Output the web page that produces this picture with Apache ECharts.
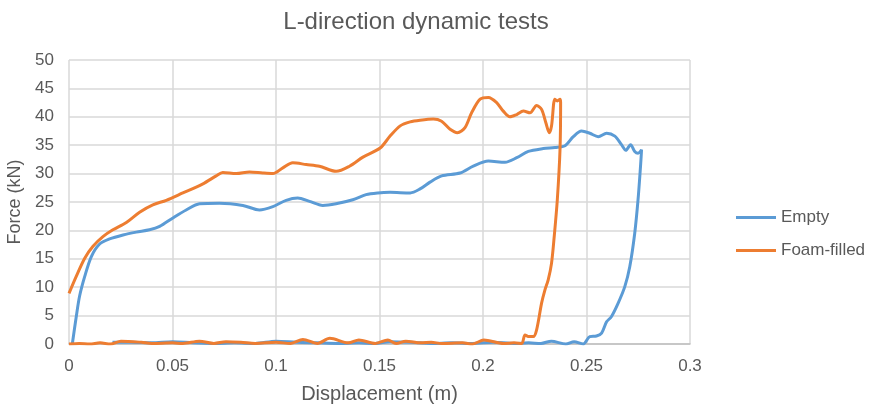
<!DOCTYPE html>
<html><head><meta charset="utf-8">
<script src="https://cdn.jsdelivr.net/npm/echarts@6/dist/echarts.min.js"></script>
<style>html,body{margin:0;padding:0;background:#fff}#c{width:870px;height:406px}</style>
</head><body><div id="c"></div>
<script>
const title = 'L-direction dynamic tests';
const xTitle = 'Displacement (m)';
const yTitle = 'Force (kN)';
const seriesNames = ['Empty', 'Foam-filled'];

const emptyDisp = [0.0016,0.0035,0.0051,0.0076,0.0108,0.0148,0.0196,0.0261,0.0325,0.0389,0.0438,0.0502,0.0566,0.0631,0.0727,0.084,0.092,0.0985,0.1049,0.1105,0.1162,0.1226,0.129,0.1371,0.1435,0.1492,0.1551,0.1648,0.1696,0.1744,0.18,0.1889,0.1953,0.2026,0.2106,0.2163,0.2219,0.2291,0.2347,0.2396,0.2436,0.2476,0.2516,0.2557,0.2597,0.2637,0.2669,0.269,0.2713,0.2733,0.2749,0.2766,
  0.2761,0.2749,0.2733,0.2709,0.2685,0.2653,0.262,0.2597,0.2573,0.2548,0.2516,0.2484,
  0.244,0.24,0.233,0.228,0.222,0.215,0.205,0.195,0.185,0.175,0.165,0.155,0.148,0.14,0.13,0.12,0.11,0.1,0.09,0.08,0.07,0.06,0.05,0.04,0.03,0.021];
const emptyForce = [0,4.8,8.4,11.9,15.4,17.6,18.5,19.2,19.7,20.1,20.7,22.2,23.6,24.7,24.8,24.4,23.6,24.2,25.3,25.7,25.1,24.4,24.7,25.4,26.3,26.6,26.7,26.6,27.3,28.5,29.6,30.1,31.3,32.2,32.0,32.8,33.9,34.4,34.6,34.9,36.5,37.5,37.1,36.5,37.1,36.6,35.1,34.1,35.1,33.9,33.6,34.2,
  31.3,25.4,19.5,13.6,10.1,7.2,4.8,3.9,1.9,1.4,1.3,0,
  0.4,0,0.5,0.1,0.2,0.1,0.3,0.1,0.2,0.1,0.3,0.4,0.1,0.2,0.1,0.2,0.3,0.5,0.1,0.2,0.1,0.2,0.4,0.2,0.3,0.3];

const foamDisp = [0,0.0035,0.0076,0.0116,0.0164,0.0212,0.0277,0.0341,0.0405,0.047,0.055,0.0647,0.0711,0.0743,0.0808,0.0872,0.0936,0.0985,0.1033,0.1081,0.1146,0.121,0.129,0.1355,0.142,0.1503,0.1551,0.16,0.1648,0.1696,0.176,0.18,0.1841,0.1876,0.1913,0.1945,0.1986,0.2026,0.2066,0.2098,0.213,0.2163,0.2195,0.2227,0.2259,0.2283,0.2304,0.232,0.2331,0.2347,0.2359,0.2372,0.2375,
  0.2372,0.2359,0.2344,0.2331,0.2315,0.2299,0.2283,0.2259,0.2243,0.2219,0.2203,0.2187,
  0.215,0.21,0.2004,0.195,0.19,0.18,0.175,0.17,0.1627,0.158,0.154,0.148,0.14,0.135,0.126,0.12,0.113,0.107,0.1,0.09,0.083,0.0758,0.07,0.063,0.055,0.05,0.04,0.035,0.0251,0.02,0.015,0.01,0.005,0];
const foamForce = [8.9,11.9,15.1,17.2,18.9,20.1,21.4,23.2,24.5,25.3,26.6,28.2,29.6,30.2,30.0,30.3,30.1,30.0,31.0,31.9,31.6,31.3,30.4,31.3,32.9,34.5,36.6,38.4,39.1,39.4,39.6,39.2,37.8,37.2,38.1,40.7,43.1,43.4,42.5,41.0,40.0,40.4,41.0,40.7,42.0,41.3,38.9,37.2,38.4,43.1,42.8,43.1,42.5,
  34.2,25.4,18.9,14.2,11.3,9.5,7.2,2.5,1.3,1.3,1.6,0.1,
  0.2,0.1,0.7,0,0.2,0.1,0.3,0.2,0.5,0.1,0.7,0.1,0.7,0.2,1.0,0.1,0.8,0.1,0.3,0.1,0.3,0.4,0.1,0.5,0.1,0.2,0.1,0.3,0.5,0,0.2,0,0.1,0];

const xMin = 0, xMax = 0.3, xStep = 0.05;
const yMin = 0, yMax = 50, yStep = 5;

function pairs(xs, ys){ return xs.map((x,i)=>[x, ys[i]]); }

const chart = echarts.init(document.getElementById('c'), null, {renderer:'canvas'});
const font = 'Liberation Sans, Arial, sans-serif';
chart.setOption({
  animation:false,
  textStyle:{fontFamily:font},
  title:{text:title, left:411, top:5, textAlign:'center', textStyle:{fontSize:24, fontWeight:'normal', color:'#595959', fontFamily:font}},
  grid:{left:69, right:180, top:60, bottom:62, containLabel:false, outerBoundsMode:'none'},
  legend:{orient:'vertical', left:731, top:204, itemWidth:40, itemHeight:3, itemGap:16,
    icon:'rect', textStyle:{fontSize:17, color:'#595959', fontFamily:font}, data:seriesNames},
  xAxis:{type:'value', min:xMin, max:xMax, interval:xStep,
    name:xTitle, nameLocation:'middle', nameGap:40, nameTextStyle:{fontSize:20, color:'#595959'},
    axisLine:{show:true, lineStyle:{color:'#bfbfbf', width:1.5}}, axisTick:{show:false},
    axisLabel:{fontSize:17, color:'#595959', margin:14},
    splitLine:{show:true, lineStyle:{color:'#d9d9d9', width:1.5}}},
  yAxis:{type:'value', min:yMin, max:yMax, interval:yStep,
    name:yTitle, nameLocation:'middle', nameGap:43, nameTextStyle:{fontSize:18, color:'#595959'},
    axisLine:{show:false}, axisTick:{show:false},
    axisLabel:{fontSize:17, color:'#595959', margin:15},
    splitLine:{show:true, lineStyle:{color:'#d9d9d9', width:1.5}}},
  series:[
    {name:seriesNames[0], type:'line', data:pairs(emptyDisp, emptyForce), showSymbol:false, smooth:0.3,
      lineStyle:{color:'#5B9BD5', width:3}, itemStyle:{color:'#5B9BD5'}, z:2},
    {name:seriesNames[1], type:'line', data:pairs(foamDisp, foamForce), showSymbol:false, smooth:0.3,
      lineStyle:{color:'#ED7D31', width:3}, itemStyle:{color:'#ED7D31'}, z:3}
  ]
});
</script></body></html>
